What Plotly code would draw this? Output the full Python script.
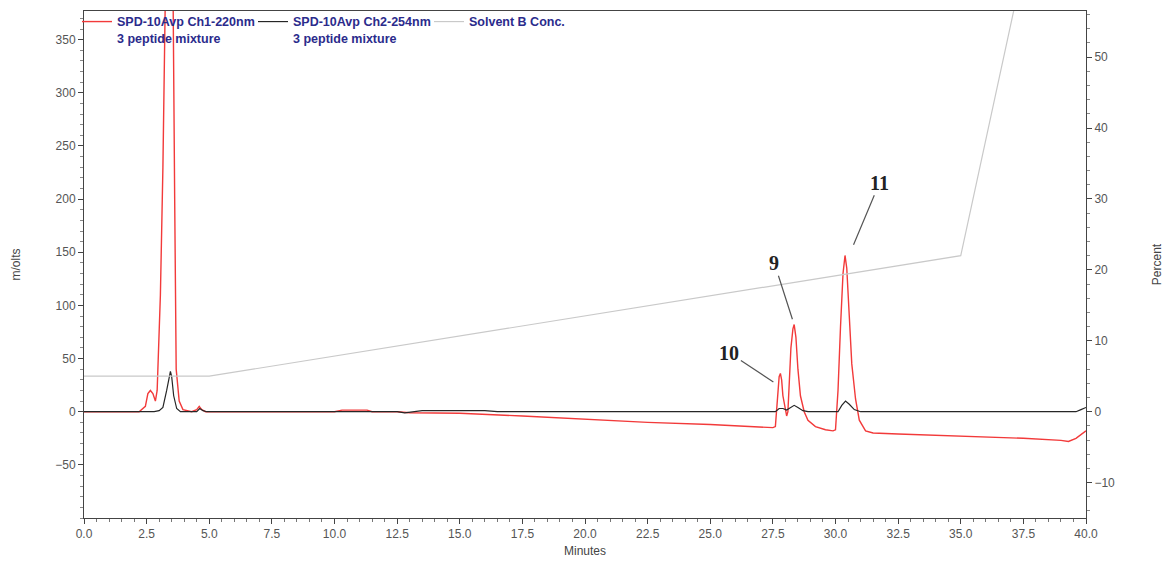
import plotly.graph_objects as go

# ---------------- data ----------------
ch1_time = [0.0, 2.2, 2.45, 2.55, 2.65, 2.75, 2.85, 2.92, 3.05, 3.15, 3.24, 3.3, 3.5, 3.56, 3.62, 3.68,
            3.8, 3.95, 4.3, 4.5, 4.6, 4.7, 4.85, 10.0, 10.3, 11.3, 11.5, 12.5, 13.0, 15.0, 17.5,
            20.0, 22.5, 25.0, 27.0, 27.5, 27.6, 27.65, 27.7, 27.75, 27.8, 27.85, 27.9, 28.0,
            28.05, 28.1, 28.15, 28.22, 28.3, 28.35, 28.42, 28.5, 28.6, 28.75, 28.9, 29.2, 29.6,
            29.9, 30.0, 30.1, 30.2, 30.3, 30.38, 30.45, 30.55, 30.65, 30.8, 30.95, 31.2, 31.5,
            32.5, 35.0, 37.5, 39.0, 39.3, 39.6, 39.85, 40.0]
ch1_mv = [0, 0, 5, 17, 20, 17, 10, 20, 110, 230, 380, 430, 430, 380, 200, 40,
          10, 2, 0, 2, 5, 2, 0, 0, 1.5, 1.5, 0, 0, -1, -1.5, -4,
          -7, -10, -12, -14, -15, -14, 0, 20, 33, 36, 30, 15, 0,
          -4, 0, 30, 60, 78, 82, 70, 40, 15, 0, -8, -14, -17,
          -18, -17, 20, 80, 130, 147, 135, 90, 45, 12, -8, -18, -20,
          -21, -23, -25, -27, -28, -25, -21, -18]

ch2_time = [0.0, 2.8, 3.0, 3.15, 3.3, 3.4, 3.45, 3.5, 3.58, 3.7, 3.85, 4.5, 4.62, 4.75, 4.9,
            12.5, 12.8, 13.5, 16.0, 16.5, 27.6, 27.75, 27.9, 28.05, 28.2, 28.35, 28.5, 28.7,
            28.9, 30.1, 30.25, 30.4, 30.55, 30.75, 31.0, 39.6, 39.8, 40.0]
ch2_mv = [0, 0, 1, 4, 20, 35, 38, 33, 15, 3, 0, 0, 3, 1, 0,
          0, -1, 1, 1, 0, 0, 3, 3, 1.5, 4, 6, 4, 1,
          0, 0, 6, 10, 7, 2, 0, 0, 2, 4]

solvent_time = [0.0, 5.0, 35.0, 38.0]
solvent_pct = [5, 5, 22, 71]

peak_labels = ["10", "9", "11"]
peak_tip_time = [27.52, 28.28, 30.72]
peak_tip_mv = [28, 87, 157]

x_ticks = [0, 2.5, 5, 7.5, 10, 12.5, 15, 17.5, 20, 22.5, 25, 27.5, 30, 32.5, 35, 37.5, 40]
y_ticks = [-50, 0, 50, 100, 150, 200, 250, 300, 350]
y2_ticks = [-10, 0, 10, 20, 30, 40, 50]

# ---------------- figure ----------------
fig = go.Figure()

fig.add_trace(go.Scatter(x=solvent_time, y=solvent_pct, yaxis="y2", mode="lines",
                         name="Solvent B Conc.", line=dict(color="#c9c9c9", width=1.2),
                         legendrank=3))
fig.add_trace(go.Scatter(x=ch1_time, y=ch1_mv, mode="lines",
                         name="SPD-10Avp Ch1-220nm<br>3 peptide mixture",
                         line=dict(color="#f23a3a", width=1.4), legendrank=1))
fig.add_trace(go.Scatter(x=ch2_time, y=ch2_mv, mode="lines",
                         name="SPD-10Avp Ch2-254nm<br>3 peptide mixture",
                         line=dict(color="#262626", width=1.2), legendrank=2))

for lab, tx, ty, ax, ay in zip(peak_labels, peak_tip_time, peak_tip_mv, [-44, -18, 26], [-29, -56, -62]):
    fig.add_annotation(x=tx, y=ty, text=f"<b>{lab}</b>", showarrow=True, arrowhead=0,
                       arrowwidth=1.2, arrowcolor="#555555", ax=ax, ay=ay,
                       font=dict(family="Liberation Serif", size=20, color="#222222"))

tick_font = dict(family="Liberation Sans, Arial", size=12, color="#555555")

fig.update_layout(
    width=1164, height=569,
    margin=dict(l=84, r=78, t=7, b=51),
    paper_bgcolor="white", plot_bgcolor="white",
    showlegend=True,
    legend=dict(orientation="h", x=-0.007, y=1.008, xanchor="left", yanchor="top",
                entrywidth=131, entrywidthmode="pixels", valign="top",
                bgcolor="rgba(0,0,0,0)",
                font=dict(family="Liberation Sans, Arial", size=12.5, color="#2b2b8c", weight="bold")),
    xaxis=dict(range=[0, 40], tickvals=x_ticks, ticktext=[f"{v:.1f}" for v in x_ticks],
               showgrid=False, zeroline=False, showline=True, linecolor="#444444", linewidth=1,
               mirror=True, ticks="outside", ticklen=5, tickcolor="#444444", automargin=False,
               minor=dict(dtick=0.5, ticks="outside", ticklen=3, tickcolor="#777777"),
               tickfont=tick_font,
               title=dict(text="Minutes", font=dict(family="Liberation Sans, Arial", size=12, color="#444444"),
                          standoff=6)),
    yaxis=dict(range=[-100, 377], tickvals=y_ticks, showgrid=False, zeroline=False,
               showline=True, linecolor="#444444", linewidth=1, ticks="outside", ticklen=5,
               tickcolor="#444444", automargin=False,
               minor=dict(dtick=10, ticks="outside", ticklen=3, tickcolor="#888888"),
               tickfont=tick_font,
               title=dict(text="m/olts", font=dict(family="Liberation Sans, Arial", size=12, color="#444444"),
                          standoff=32)),
    yaxis2=dict(range=[-15, 56.5], tickvals=y2_ticks, overlaying="y", side="right",
                showgrid=False, zeroline=False, showline=True, linecolor="#444444", linewidth=1,
                ticks="outside", ticklen=5, tickcolor="#444444", automargin=False,
                minor=dict(dtick=2, ticks="outside", ticklen=3, tickcolor="#888888"),
                tickfont=tick_font,
                title=dict(text="Percent", font=dict(family="Liberation Sans, Arial", size=12, color="#444444"),
                           standoff=40)),
)

fig.write_html("out.html")
